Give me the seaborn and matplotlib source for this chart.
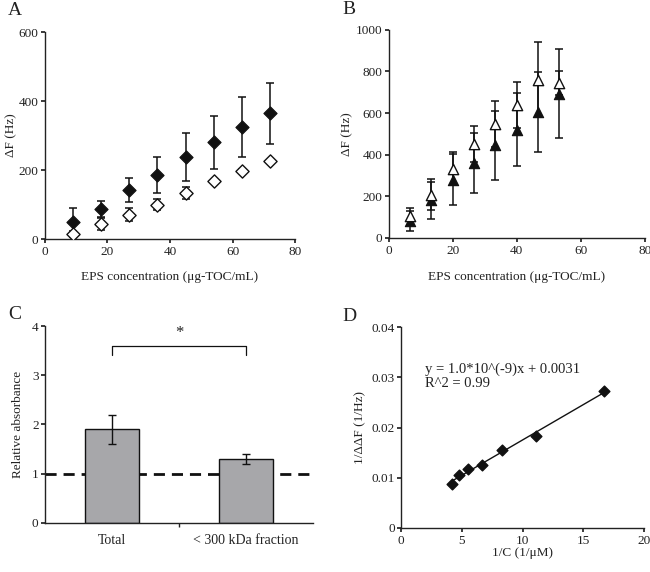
import numpy as np
import pandas as pd
import matplotlib
matplotlib.use("Agg")
import matplotlib.pyplot as plt
import seaborn as sns

# panel A : deltaF vs EPS concentration (diamonds)
conc_a = [9, 18, 27, 36, 45, 54, 63, 72]
a_filled = [50, 88, 142, 187, 238, 281, 325, 364]
a_filled_err = [41, 23, 34, 52, 70, 77, 86, 88]
a_open = [15, 44, 71, 100, 134, 168, 198, 225]
a_open_err = [8, 18, 19, 15, 17, 4, 4, 4]

# panel B : deltaF vs EPS concentration (triangles)
conc_b = [6.7, 13.3, 20, 26.7, 33.3, 40, 46.7, 53.3]
b_filled = [80, 181, 280, 360, 445, 520, 605, 693]
b_filled_err = [48, 90, 123, 145, 165, 175, 192, 215]
b_open = [104, 208, 333, 451, 549, 637, 760, 744]
b_open_err = [40, 75, 81, 85, 110, 110, 180, 56]

# panel C : relative absorbance
groups_c = ["Total", "< 300 kDa fraction"]
absorb_c = [1.9, 1.3]
absorb_err_c = [0.29, 0.10]

# panel D : double reciprocal plot
inv_c = [4.16, 4.77, 5.48, 6.68, 8.33, 11.07, 16.7]
inv_ddf = [0.0087, 0.0106, 0.0117, 0.0126, 0.0155, 0.0184, 0.0272]

sns.set_theme(style="ticks")
plt.rcParams["font.family"] = ["Liberation Serif", "DejaVu Serif"]
plt.rcParams["font.size"] = 9
plt.rcParams["text.color"] = "#222222"
plt.rcParams["axes.labelcolor"] = "#222222"
plt.rcParams["xtick.color"] = "#222222"
plt.rcParams["ytick.color"] = "#222222"
plt.rcParams["axes.edgecolor"] = "#222222"
plt.rcParams["xtick.major.size"] = 3
plt.rcParams["ytick.major.size"] = 3
plt.rcParams["xtick.major.pad"] = 2
plt.rcParams["ytick.major.pad"] = 1.5
plt.rcParams["xtick.labelsize"] = 9.5
plt.rcParams["ytick.labelsize"] = 9.5
plt.rcParams["axes.labelsize"] = 9.5

fig = plt.figure(figsize=(6.5, 5.72), dpi=100)
ax_a = fig.add_axes([0.069, 0.582, 0.385, 0.362])
ax_b = fig.add_axes([0.598, 0.584, 0.394, 0.364])
ax_c = fig.add_axes([0.069, 0.086, 0.413, 0.344])
ax_d = fig.add_axes([0.617, 0.077, 0.374, 0.351])

ebar = dict(fmt="none", ecolor="#111111", elinewidth=1.1, capsize=3, capthick=1.1, zorder=1)

# A
ax_a.errorbar(conc_a, a_filled, yerr=a_filled_err, **ebar)
ax_a.errorbar(conc_a, a_open, yerr=a_open_err, **ebar)
sns.scatterplot(x=conc_a, y=a_filled, marker="D", s=45, color="#111111", edgecolor="#111111", linewidth=0.8, ax=ax_a, zorder=3)
sns.scatterplot(x=conc_a, y=a_open, marker="D", s=45, color="white", edgecolor="#111111", linewidth=1.0, ax=ax_a, zorder=3)
ax_a.set_xlim(0, 80)
ax_a.set_ylim(0, 600)
ax_a.set_xticks([0, 20, 40, 60, 80])
ax_a.set_yticks([0, 200, 400, 600])
ax_a.set_xlabel("EPS concentration (μg-TOC/mL)", labelpad=9)
ax_a.set_ylabel("ΔF (Hz)", labelpad=1)

# B
ax_b.errorbar(conc_b, b_filled, yerr=b_filled_err, **ebar)
ax_b.errorbar(conc_b, b_open, yerr=b_open_err, **ebar)
sns.scatterplot(x=conc_b, y=b_filled, marker="^", s=55, color="#111111", edgecolor="#111111", linewidth=0.8, ax=ax_b, zorder=3)
sns.scatterplot(x=conc_b, y=b_open, marker="^", s=55, color="white", edgecolor="#111111", linewidth=1.0, ax=ax_b, zorder=4)
ax_b.set_xlim(0, 80)
ax_b.set_ylim(0, 1000)
ax_b.set_xticks([0, 20, 40, 60, 80])
ax_b.set_yticks([0, 200, 400, 600, 800, 1000])
ax_b.set_xlabel("EPS concentration (μg-TOC/mL)", labelpad=10)
ax_b.set_ylabel("ΔF (Hz)", labelpad=2)

# C
dfc = pd.DataFrame({"group": groups_c, "value": absorb_c})
sns.barplot(data=dfc, x="group", y="value", color="#a7a7aa", edgecolor="#111111", linewidth=1.0, width=0.4, saturation=1, ax=ax_c, zorder=2)
ax_c.errorbar(range(len(groups_c)), absorb_c, yerr=absorb_err_c, fmt="none", ecolor="#111111", elinewidth=1.0, capsize=3, capthick=1.0, zorder=3)
ax_c.axhline(1, color="#111111", linestyle=(0, (4, 2.5)), linewidth=2, zorder=1)
ax_c.plot([0, 0, 1, 1], [3.41, 3.6, 3.6, 3.41], color="#111111", linewidth=0.9)
ax_c.text(0.5, 3.85, "*", ha="center", va="center", fontsize=12)
ax_c.set_xlim(-0.5, 1.5)
ax_c.set_ylim(0, 4)
ax_c.set_yticks([0, 1, 2, 3, 4])
ax_c.tick_params(axis="x", length=0, labelsize=10, pad=8)
ax_c.set_xticks([0.5], minor=True)
ax_c.tick_params(axis="x", which="minor", length=3, color="#222222")
ax_c.set_xlabel("")
ax_c.set_ylabel("Relative absorbance", labelpad=6)

# D
sns.regplot(x=inv_c, y=inv_ddf, ci=None, marker="D", ax=ax_d,
            scatter_kws=dict(s=30, color="#111111", edgecolor="#111111", alpha=1, zorder=3),
            line_kws=dict(color="#111111", linewidth=1.0))
ax_d.set_xlim(0, 20)
ax_d.set_ylim(0, 0.04)
ax_d.set_xticks([0, 5, 10, 15, 20])
ax_d.set_yticks([0, 0.01, 0.02, 0.03, 0.04])
ax_d.set_yticklabels(["0", "0.01", "0.02", "0.03", "0.04"])
ax_d.text(2.0, 0.0317, "y = 1.0*10^(-9)x + 0.0031", ha="left", va="center", fontsize=10.5)
ax_d.text(2.0, 0.0287, "R^2 = 0.99", ha="left", va="center", fontsize=10.5)
ax_d.set_xlabel("1/C (1/μM)", labelpad=0)
ax_d.set_ylabel("1/ΔΔF (1/Hz)", labelpad=4)

for ax in (ax_a, ax_b, ax_c, ax_d):
    sns.despine(ax=ax)
    for s in ("left", "bottom"):
        ax.spines[s].set_linewidth(1.0)

for lab, (px, py) in zip("ABCD", [(8, 19), (342, 18), (8, 323), (342, 325)]):
    fig.text(px / 650, 1 - py / 572, lab, fontsize=14, ha="left", va="bottom")

fig.savefig("out.png", dpi=100)
